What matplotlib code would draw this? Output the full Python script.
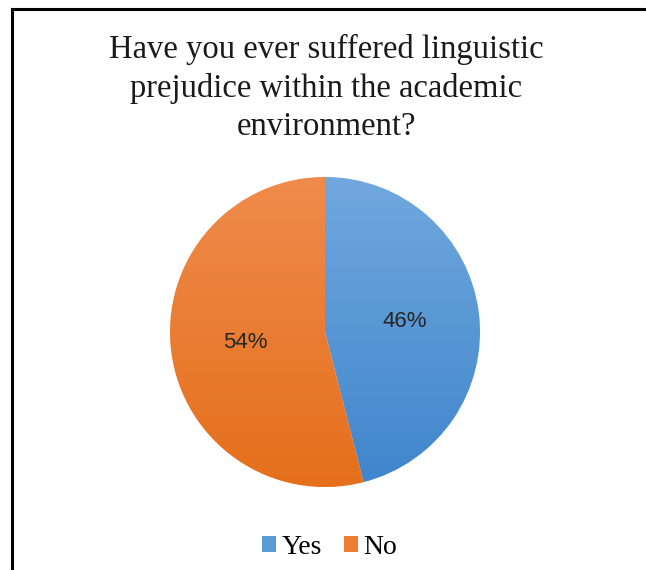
import numpy as np
import matplotlib.pyplot as plt
from matplotlib.colors import LinearSegmentedColormap
from matplotlib.patches import Patch
from matplotlib.lines import Line2D

labels = ["Yes", "No"]
values = [46, 54]
top_colors = ["#71a8de", "#ef8b4c"]
bottom_colors = ["#3f85cc", "#e56f1b"]
base_colors = ["#5b9bd5", "#ed7d31"]

fig = plt.figure(figsize=(6.46, 5.7), dpi=100)

# border (only left and top visible in the crop)
fig.add_artist(Line2D([12 / 646, 12 / 646], [0, 1 - 9 / 570], color="black", lw=2.2,
                      transform=fig.transFigure))
fig.add_artist(Line2D([12 / 646, 1], [1 - 9 / 570, 1 - 9 / 570], color="black", lw=2.2,
                      transform=fig.transFigure))

fig.text(0.505, 1 - 34 / 570,
         "Have you ever suffered linguistic\nprejudice within the academic\nenvironment?",
         ha="center", va="top", fontsize=23.5, family="Liberation Serif",
         linespacing=1.32, color="#1a1a1a")

r = 155
ax = fig.add_axes([(325 - r) / 646, (570 - 332 - r) / 570, 2 * r / 646, 2 * r / 570])
wedges, texts, autotexts = ax.pie(values, colors=base_colors, startangle=90, counterclock=False,
                                  autopct="%1.0f%%", pctdistance=0.52,
                                  wedgeprops=dict(edgecolor="white", linewidth=0.6),
                                  textprops=dict(fontsize=16, family="Liberation Sans",
                                                 color="#262626"))
ax.set_xlim(-1, 1)
ax.set_ylim(-1, 1)
ax.set_aspect("equal")
ax.axis("off")

grad = np.linspace(0, 1, 256).reshape(-1, 1)
for w, c0, c1 in zip(wedges, top_colors, bottom_colors):
    cmap = LinearSegmentedColormap.from_list("g", [c0, c1])
    im = ax.imshow(grad, cmap=cmap, extent=(-1, 1, -1, 1), aspect="auto", zorder=1)
    im.set_clip_path(w)
for t in autotexts:
    t.set_zorder(5)

handles = [Patch(facecolor=c, edgecolor="none") for c in base_colors]
fig.legend(handles, labels, loc="center", bbox_to_anchor=(0.51, 1 - 547 / 570), ncol=2,
           frameon=False, prop=dict(family="Liberation Serif", size=20),
           handlelength=0.5, handleheight=0.5, handletextpad=0.2, columnspacing=0.8)

fig.savefig("out.png", dpi=100)
